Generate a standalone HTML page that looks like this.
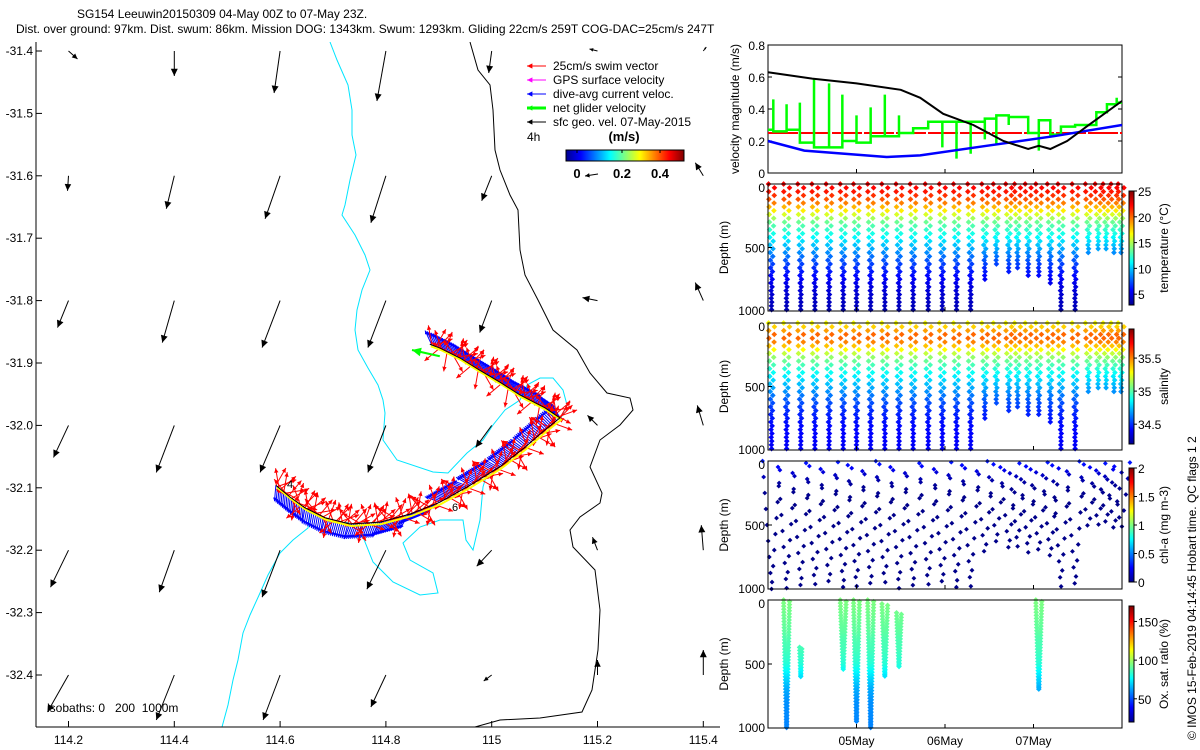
<!DOCTYPE html>
<html><head><meta charset="utf-8"><style>
html,body{margin:0;padding:0;background:#fff;}
svg{display:block;font-family:"Liberation Sans",sans-serif;}
</style></head><body>
<svg id="root" xmlns="http://www.w3.org/2000/svg" width="1200" height="750" viewBox="0 0 1200 750">
<defs>
<linearGradient id="jetH" x1="0" y1="0" x2="1" y2="0">
<stop offset="0" stop-color="#00008f"/><stop offset="0.125" stop-color="#0000ff"/><stop offset="0.375" stop-color="#00ffff"/><stop offset="0.625" stop-color="#ffff00"/><stop offset="0.875" stop-color="#ff0000"/><stop offset="1" stop-color="#800000"/>
</linearGradient>
<linearGradient id="jetV" x1="0" y1="1" x2="0" y2="0">
<stop offset="0" stop-color="#00008f"/><stop offset="0.125" stop-color="#0000ff"/><stop offset="0.375" stop-color="#00ffff"/><stop offset="0.625" stop-color="#ffff00"/><stop offset="0.875" stop-color="#ff0000"/><stop offset="1" stop-color="#800000"/>
</linearGradient>
<clipPath id="mapClip"><rect x="36" y="42" width="684" height="685"/></clipPath>
</defs>
<g font-size="12" fill="#000">
<text x="77" y="18">SG154 Leeuwin20150309 04-May 00Z to 07-May 23Z.</text>
<text x="16" y="33">Dist. over ground: 97km. Dist. swum: 86km. Mission DOG: 1343km. Swum: 1293km. Gliding 22cm/s 259T COG-DAC=25cm/s 247T</text>
</g>
<g id="map">
<g clip-path="url(#mapClip)" id="mapInner">
<path fill="none" stroke="#00e5ff" stroke-width="1" d="M330,42 L337,60 L348,85 L352,110 L352,135 L356,155 L350,180 L345,205 L342,215 L355,235 L365,255 L370,270 L362,290 L357,310 L355,330 L358,350 L368,368 L378,385 L383,400 L385,413 L383,440 L397,460 L433,472 L448,473 L467,453 L483,440 L493,425 L505,410 L520,400 L527,385 L540,378 L553,378 L563,390 L567,405 L560,420"/>
<path fill="none" stroke="#00e5ff" stroke-width="1" d="M488,470 L483,487 L480,520 L473,550 L466,540 L463,520 L440,520 L420,527 L403,543 L410,560 L433,573 L438,593 L420,595 L393,582 L373,562 L363,537 L357,525 L345,522"/>
<path fill="none" stroke="#00e5ff" stroke-width="1" d="M310,515 L308,528 L293,540 L280,553 L268,575 L260,593 L250,615 L243,633 L238,660 L233,680 L228,705 L222,727"/>
<path fill="none" stroke="#000" stroke-width="1" d="M470,42 L478,70 L490,85 L493,110 L495,150 L500,170 L510,195 L518,210 L520,250 L525,275 L538,300 L553,330 L577,350 L590,373 L607,393 L630,398 L633,410 L620,425 L600,440 L590,467 L602,493 L600,503 L580,517 L570,530 L573,547 L595,570 L600,610 L598,650 L592,690 L582,712 L540,718 L500,720 L475,727"/>
<g id="geo"></g>
<g id="track"></g>
</g>
<line x1="36" y1="42" x2="36" y2="727" stroke="#000"/>
<line x1="36" y1="727" x2="720" y2="727" stroke="#000"/>
<g id="mapTicks" font-size="12"></g>
<text x="47" y="712" font-size="12" style="white-space:pre" xml:space="preserve">isobaths: 0   200  1000m</text>
</g>
<g id="legend" font-size="12"></g>
<g id="panels" font-size="12"></g>
<text transform="translate(1196,740) rotate(-90)" font-size="12">© IMOS 15-Feb-2019 04:14:45 Hobart time. QC flags 1  2</text>
</svg>
<script>
// ---------------- data ----------------
const geoLons = [114.2,114.4,114.6,114.8,115.0,115.2,115.4];
const geoLats = [-31.4,-31.6,-31.8,-32.0,-32.2,-32.4];
const geoU = [
 [0.09,0.00,-0.06,-0.09,-0.03,-0.08,0.03],
 [-0.01,-0.08,-0.15,-0.15,-0.10,0.00,-0.08],
 [-0.11,-0.12,-0.18,-0.18,-0.12,-0.15,-0.08],
 [-0.15,-0.18,-0.20,-0.18,-0.16,-0.10,-0.06],
 [-0.18,-0.15,-0.18,-0.19,-0.15,-0.05,-0.02],
 [-0.21,-0.18,-0.17,-0.15,-0.08,0.00,0.00]];
const geoV = [
 [-0.08,-0.25,-0.42,-0.50,-0.22,0.02,0.04],
 [-0.15,-0.33,-0.43,-0.47,-0.25,0.00,0.13],
 [-0.27,-0.42,-0.47,-0.47,-0.32,0.03,0.18],
 [-0.32,-0.47,-0.47,-0.47,-0.22,0.10,0.20],
 [-0.37,-0.42,-0.47,-0.39,-0.16,0.13,0.25],
 [-0.37,-0.45,-0.45,-0.32,-0.06,0.15,0.25]];
const trackLon = [114.592,114.619,114.647,114.685,114.732,114.789,114.846,114.902,114.959,115.016,115.063,115.101,115.129,115.101,115.053,115.016,114.978,114.940,114.902,114.883];
const trackLat = [-32.096,-32.115,-32.132,-32.148,-32.158,-32.155,-32.142,-32.123,-32.096,-32.066,-32.035,-32.007,-31.988,-31.972,-31.951,-31.931,-31.912,-31.892,-31.876,-31.870];
const curAng = [-95,-95,-100,-105,-110,-120,-140,160,150,145,140,135,120,115,115,115,115,115,115];
const swimAng = [60,20,100,40,-30,80,10,130,50,-60,30,150,-100,70,-20,110,-140,45];
const geoT = [0,0.5,1.0,1.5,1.72,1.98,2.32,2.66,2.94,3.06,3.19,3.38,3.6,4.0];
const geoSpd = [0.63,0.59,0.56,0.52,0.47,0.37,0.30,0.20,0.15,0.17,0.15,0.20,0.29,0.45];
const dacT = [0,0.41,1.34,1.72,2.47,3.23,4.0];
const dacSpd = [0.20,0.14,0.10,0.11,0.17,0.23,0.30];
const swimSpd = 0.25;
const netT = [0.02,0.06,0.21,0.36,0.52,0.69,0.84,1.0,1.16,1.32,1.48,1.64,1.81,1.97,2.13,2.29,2.45,2.58,2.72,2.94,3.06,3.19,3.31,3.47,3.71,3.83,3.94,4.0];
const netV = [0.27,0.26,0.27,0.19,0.16,0.16,0.2,0.19,0.23,0.23,0.25,0.28,0.32,0.32,0.32,0.32,0.34,0.36,0.35,0.25,0.33,0.24,0.29,0.3,0.38,0.43,0.44];
const netSpike = [0.27,0.46,0.43,0.44,0.59,0.56,0.49,0.36,0.41,0.49,0.36,0.28,0.28,0.16,0.09,0.12,0.21,0.18,0.30,0.35,0.14,0.33,0.24,0.29,0.3,0.38,0.47,0.44];
const diveT = [0.04,0.21,0.37,0.53,0.69,0.85,1.0,1.16,1.32,1.48,1.64,1.81,1.97,2.13,2.29,2.45,2.58,2.72,2.82,2.94,3.06,3.19,3.31,3.47,3.62,3.73,3.82,3.91,3.99];
const diveMax = [1000,1000,1000,1000,1000,1000,1000,1000,1000,1000,1000,1000,1000,1000,1000,770,650,700,670,720,740,780,1000,1000,560,520,510,560,560];
const profDepth = [0,50,100,150,200,250,300,400,500,600,700,800,1000];
const tempProf = [22.5,22,21,19.5,17.5,15.5,13.5,11.5,9.5,7.5,6,5,4];
const salProf = [35.28,35.42,35.58,35.5,35.32,35.15,35.03,34.85,34.72,34.58,34.48,34.43,34.4];
const chlProf = [0.3,0.25,0.15,0.08,0.04,0.03,0.02,0.02,0.02,0.02,0.02,0.02,0.02];
const oxProf = [95,94,93,92,91,90,88,86,82,72,64,60,58];
const oxDive = [1,2,5,6,7,8,9,20];
const oxTop = [0,370,0,0,0,30,100,0];
const oxBot = [1000,600,550,950,1000,600,530,700];
// ---------------- helpers ----------------
const NS='http://www.w3.org/2000/svg';
function mk(tag, attrs, name, parent){
  const el=document.createElementNS(NS,tag);
  for(const k in attrs) el.setAttribute(k, attrs[k]);
  
  
  parent.appendChild(el); return el;
}
function txt(x,y,s,name,parent,extra){
  const t=mk('text',Object.assign({x:x,y:y},extra||{}),name,parent); t.textContent=s; return t;
}
function jet(t){
  t=Math.max(0,Math.min(1,t));
  const c=v=>Math.round(255*Math.max(0,Math.min(1,v)));
  return 'rgb('+c(1.5-Math.abs(4*t-3))+','+c(1.5-Math.abs(4*t-2))+','+c(1.5-Math.abs(4*t-1))+')';
}
function interp(xs,ys,x){
  if(x<=xs[0]) return ys[0];
  for(let i=1;i<xs.length;i++){ if(x<=xs[i]){const f=(x-xs[i-1])/(xs[i]-xs[i-1]); return ys[i-1]+f*(ys[i]-ys[i-1]);} }
  return ys[ys.length-1];
}
function arrow(parent,x1,y1,x2,y2,color,w,head,name){
  const g=mk('g',{},name,parent);
  mk('line',{x1:x1,y1:y1,x2:x2,y2:y2,stroke:color,'stroke-width':w},'arrow-shaft',g);
  const a=Math.atan2(y2-y1,x2-x1), L=Math.hypot(x2-x1,y2-y1);
  if(L<1) return g;
  const h=Math.min(head,L*0.5), s=0.45;
  const p=[[x2,y2],[x2-h*Math.cos(a-s),y2-h*Math.sin(a-s)],[x2-h*Math.cos(a+s),y2-h*Math.sin(a+s)]];
  mk('polygon',{points:p.map(q=>q.join(',')).join(' '),fill:color},'arrow-head',g);
  return g;
}
// ---------------- map ----------------
const mx=lon=>68.5+(lon-114.2)*529;
const my=lat=>51+(-31.4-lat)*624;
const geoScale=100;
const geo=document.getElementById('geo');
geoLats.forEach((lat,i)=>geoLons.forEach((lon,j)=>{
  const x=mx(lon), y=my(lat);
  arrow(geo,x,y,x+geoU[i][j]*geoScale,y-geoV[i][j]*geoScale,'#000',1,8,'geo-velocity-arrow');
}));
const mt=document.getElementById('mapTicks');
geoLons.forEach(lon=>{ const x=mx(lon);
  mk('line',{x1:x,y1:727,x2:x,y2:721,stroke:'#000'},'x-tick',mt);
  txt(x,744,String(lon),'x-tick-label',mt,{'text-anchor':'middle'}); });
for(let k=0;k<=10;k++){ const lat=-31.4-k*0.1, y=my(lat);
  mk('line',{x1:36,y1:y,x2:42,y2:y,stroke:'#000'},'y-tick',mt);
  txt(33,y+4,lat.toFixed(1),'y-tick-label',mt,{'text-anchor':'end'}); }
const tr=document.getElementById('track');
const tp=trackLon.map((lon,i)=>[mx(lon),my(trackLat[i])]);
const samples=[];
for(let i=0;i<tp.length-1;i++){
  const [x1,y1]=tp[i],[x2,y2]=tp[i+1]; const L=Math.hypot(x2-x1,y2-y1); const n=Math.max(1,Math.round(L/2));
  for(let k=0;k<n;k++){ samples.push([x1+(x2-x1)*k/n,y1+(y2-y1)*k/n,i]); }
}
samples.forEach((s,k)=>{ const a=curAng[s[2]]*Math.PI/180;
  arrow(tr,s[0],s[1],s[0]+16*Math.cos(a),s[1]-16*Math.sin(a),'#0000ff',1,4,'dive-avg-current-arrow'); });
samples.forEach((s,k)=>{ const a=swimAng[k%swimAng.length]*Math.PI/180;
  arrow(tr,s[0],s[1],s[0]+20*Math.cos(a),s[1]-20*Math.sin(a),'#ff0000',1,5,'swim-vector-arrow'); });
mk('polyline',{points:tp.map(p=>(p[0]+1)+','+(p[1]+2)).join(' '),fill:'none',stroke:'#ffff00','stroke-width':2},'track-highlight',tr);
mk('polyline',{points:tp.map(p=>p.join(',')).join(' '),fill:'none',stroke:'#000','stroke-width':1},'track-line',tr);
arrow(tr,tp[tp.length-1][0]+10,tp[tp.length-1][1]+12,412,350,'#00ff00',2,10,'net-glider-velocity-arrow');
txt(287,488,'4','track-day-label',tr,{'font-size':'11'});
txt(452,511,'6','track-day-label',tr,{'font-size':'11'});
// ---------------- legend ----------------
const lg=document.getElementById('legend');
const lgItems=[['#ff0000','25cm/s swim vector',1],['#ff00ff','GPS surface velocity',1],['#0000ff','dive-avg current veloc.',1],['#00ff00','net glider velocity',3],['#000','sfc geo. vel. 07-May-2015',1]];
lgItems.forEach((it,i)=>{ const y=66+i*14;
  arrow(lg,546,y,527,y,it[0],it[2],6,'legend-swatch');
  txt(553,y+4,it[1],'legend-entry',lg); });
txt(527,141,'4h','legend-time-label',lg);
txt(624,141,'(m/s)','legend-units',lg,{'font-weight':'bold','text-anchor':'middle','font-size':'13'});
mk('rect',{x:566,y:150,width:118,height:11,fill:'url(#jetH)',stroke:'#000'},'speed-colorbar',lg);
[[577,'0'],[622,'0.2'],[660,'0.4']].forEach(t=>{
  mk('line',{x1:t[0],y1:150,x2:t[0],y2:153,stroke:'#000'},'colorbar-tick',lg);
  txt(t[0],178,t[1],'colorbar-tick-label',lg,{'font-weight':'bold','text-anchor':'middle','font-size':'13'}); });
arrow(lg,598,174,585,176,'#000',1,5,'legend-scale-arrow');
// ---------------- right panels ----------------
const P=document.getElementById('panels');
const X0=768,X1=1122;
const tx=t=>X0+t*(X1-X0)/4;
function frame(y0,y1,name){
  mk('rect',{x:X0,y:y0,width:X1-X0,height:y1-y0,fill:'none',stroke:'#000'},name,P);
  [1,2,3].forEach(d=>{ mk('line',{x1:tx(d),y1:y1,x2:tx(d),y2:y1-4,stroke:'#000'},'time-tick',P); });
}
const VY0=45,VY1=173; const vy=v=>VY1-v*(VY1-VY0)/0.8;
frame(VY0,VY1,'velocity-panel-frame');
[0,0.2,0.4,0.6,0.8].forEach(v=>{ const y=vy(v);
  mk('line',{x1:X0,y1:y,x2:X0+4,y2:y,stroke:'#000'},'velocity-y-tick',P);
  mk('line',{x1:X1,y1:y,x2:X1-4,y2:y,stroke:'#000'},'velocity-y-tick-right',P);
  txt(765,y+5,String(v),'velocity-y-tick-label',P,{'text-anchor':'end'}); });
txt(0,0,'velocity magnitude (m/s)','velocity-y-axis-title',P,{transform:'translate(739,109) rotate(-90)','text-anchor':'middle'});
mk('line',{x1:X0,y1:vy(swimSpd),x2:X1,y2:vy(swimSpd),stroke:'#ff0000','stroke-width':2,'stroke-dasharray':'30 2'},'swim-speed-line',P);
let gd='M'+tx(0)+','+vy(netV[0]);
for(let i=0;i<netT.length-1;i++){
  const prev=i>0?netV[i-1]:netV[0];
  gd+=' L'+tx(netT[i])+','+vy(prev)+' L'+tx(netT[i])+','+vy(netSpike[i])+' L'+tx(netT[i])+','+vy(netV[i])+' L'+tx(netT[i+1])+','+vy(netV[i]);
}
mk('path',{d:gd,fill:'none',stroke:'#00ff00','stroke-width':2.5},'net-glider-speed-line',P);
mk('polyline',{points:dacT.map((t,i)=>tx(t)+','+vy(dacSpd[i])).join(' '),fill:'none',stroke:'#0000ff','stroke-width':2.5},'dive-avg-current-line',P);
mk('polyline',{points:geoT.map((t,i)=>tx(t)+','+vy(geoSpd[i])).join(' '),fill:'none',stroke:'#000','stroke-width':2},'surface-geostrophic-line',P);
function depthPanel(y0,y1,name,cbY0,cbY1,vmin,vmax,ticks,label,prof,opts){
  const dy=d=>y0+d/1000*(y1-y0);
  const g=mk('g',{},name,P);
  const sz=opts.size;
  const dot=(x,y,c,nm)=>mk('rect',{x:x-sz/2,y:y-sz/2,width:sz,height:sz,fill:c,transform:'rotate(45 '+x+' '+y+')'},nm,g);
  opts.dives.forEach(k=>{
    const t=diveT[k], top=opts.top?opts.top(k):0, bot=opts.bot?opts.bot(k):diveMax[k];
    for(let leg=0;leg<2;leg++){
      for(let d=top+(opts.off?opts.off(k,leg):(leg?opts.step/2:0)); d<=bot; d+=opts.step){
        const frac=bot>0?d/bot:0;
        const x=tx(t)+(leg?1:-1)*(1-frac)*opts.hw;
        const v=interp(profDepth,prof,d);
        dot(x,dy(d),jet((v-vmin)/(vmax-vmin)),name+'-sample');
      }
    }
  });
  mk('rect',{x:X0,y:y0,width:X1-X0,height:y1-y0,fill:'none',stroke:'#000'},name+'-frame',P);
  [1,2,3].forEach(d=>{ mk('line',{x1:tx(d),y1:y1,x2:tx(d),y2:y1-4,stroke:'#000'},'time-tick',P); });
  [[0,'0'],[500,'500'],[1000,'1000']].forEach(t=>{ const y=dy(t[0]);
    mk('line',{x1:X0,y1:y,x2:X0+4,y2:y,stroke:'#000'},'depth-tick',P);
    txt(765,t[0]==0?y+8:(t[0]==1000?y+4:y+5),t[1],'depth-tick-label',P,{'text-anchor':'end'}); });
  txt(0,0,'Depth (m)','depth-axis-title',P,{transform:'translate(728,'+((y0+y1)/2)+') rotate(-90)','text-anchor':'middle'});
  mk('rect',{x:1129,y:cbY0,width:5,height:cbY1-cbY0,fill:'url(#jetV)',stroke:'#000'},name+'-colorbar',P);
  ticks.forEach(v=>{ const y=cbY1-(v-vmin)/(vmax-vmin)*(cbY1-cbY0);
    mk('line',{x1:1134,y1:y,x2:1137,y2:y,stroke:'#000'},'colorbar-tick',P);
    txt(1138,y+5,String(v),'colorbar-tick-label',P); });
  txt(0,0,label,name+'-colorbar-title',P,{transform:'translate(1168,'+((cbY0+cbY1)/2)+') rotate(-90)','text-anchor':'middle'});
}
const allDives=diveT.map((t,i)=>i);
depthPanel(184,311,'temperature-panel',191,305,2.9,25,[5,10,15,20,25],'temperature (°C)',tempProf,{dives:allDives,step:60,size:4,hw:3});
depthPanel(323,450,'salinity-panel',329,444,34.2,35.94,[34.5,35,35.5],'salinity',salProf,{dives:allDives,step:60,size:4,hw:3});
depthPanel(461,589,'chl-panel',468,582,0,2,[0,0.5,1,1.5,2],'chl-a (mg m-3)',chlProf,{dives:allDives,step:125,size:3.4,hw:9,off:(k,leg)=>((k*47+leg*71)%125)});
depthPanel(600,728,'oxygen-panel',606,722,20,170,[50,100,150],'Ox. sat. ratio (%)',oxProf,{dives:oxDive,step:24,size:4,hw:3,top:k=>oxTop[oxDive.indexOf(k)],bot:k=>oxBot[oxDive.indexOf(k)]});
[[1,'05May'],[2,'06May'],[3,'07May']].forEach(d=>{ txt(tx(d[0]),745,d[1],'time-tick-label',P,{'text-anchor':'middle'}); });
</script>
</body></html>
